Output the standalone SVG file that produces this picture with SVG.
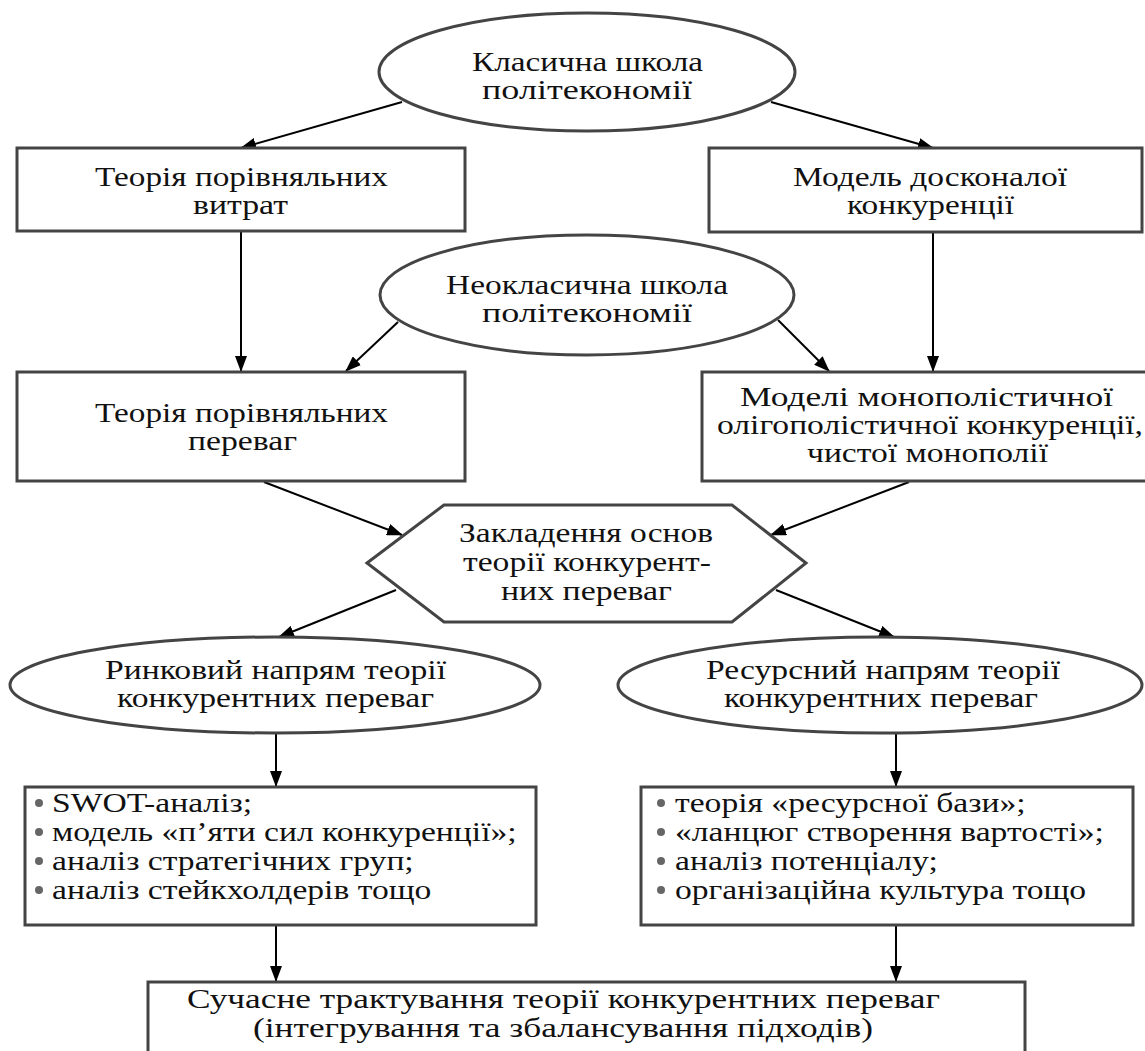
<svg xmlns="http://www.w3.org/2000/svg" width="1145" height="1051" viewBox="0 0 1145 1051">
<style>
.s{fill:#fff;stroke:#444;stroke-width:3}
text{font-family:"Liberation Serif","DejaVu Serif","Times New Roman",serif;font-size:28px;fill:#111}
.li text{font-size:27px}
.c{stroke:#000;stroke-width:2;fill:none;marker-end:url(#a)}
.b{fill:#666}
</style>
<defs>
<marker id="a" markerWidth="16" markerHeight="12" refX="15" refY="6" orient="auto" markerUnits="userSpaceOnUse">
<path d="M0,0 L16,6 L0,12 z" fill="#000"/>
</marker>
</defs>
<rect width="1145" height="1051" fill="#fff"/>
<g id="connectors">
<line class="c" x1="402" y1="102" x2="241" y2="148"/>
<line class="c" x1="771" y1="102" x2="933" y2="148"/>
<line class="c" x1="241" y1="231" x2="241" y2="371"/>
<line class="c" x1="933" y1="232" x2="933" y2="371"/>
<line class="c" x1="398" y1="322" x2="346" y2="371"/>
<line class="c" x1="778" y1="320" x2="829" y2="371"/>
<line class="c" x1="264" y1="482" x2="402" y2="535"/>
<line class="c" x1="909" y1="482" x2="771" y2="535"/>
<line class="c" x1="396" y1="590" x2="279" y2="637"/>
<line class="c" x1="776" y1="590" x2="894" y2="637"/>
<line class="c" x1="276" y1="733" x2="276" y2="786"/>
<line class="c" x1="896" y1="733" x2="896" y2="786"/>
<line class="c" x1="276" y1="926" x2="276" y2="981"/>
<line class="c" x1="896" y1="926" x2="896" y2="981"/>
</g>
<g id="n1">
<ellipse class="s" cx="587" cy="72" rx="208" ry="59"/>
<text x="472" y="71" textLength="231" lengthAdjust="spacingAndGlyphs">Класична школа</text>
<text x="482" y="99" textLength="210" lengthAdjust="spacingAndGlyphs">політекономії</text>
</g>
<g id="n2">
<rect class="s" x="17" y="148" width="448" height="83"/>
<text x="95" y="186" textLength="293" lengthAdjust="spacingAndGlyphs">Теорія порівняльних</text>
<text x="193" y="214" textLength="95" lengthAdjust="spacingAndGlyphs">витрат</text>
</g>
<g id="n3">
<rect class="s" x="709" y="148" width="433" height="84"/>
<text x="793" y="186" textLength="274" lengthAdjust="spacingAndGlyphs">Модель досконалої</text>
<text x="847" y="214" textLength="167" lengthAdjust="spacingAndGlyphs">конкуренції</text>
</g>
<g id="n4">
<ellipse class="s" cx="587" cy="295" rx="207" ry="60"/>
<text x="446" y="294" textLength="282" lengthAdjust="spacingAndGlyphs">Неокласична школа</text>
<text x="482" y="322" textLength="210" lengthAdjust="spacingAndGlyphs">політекономії</text>
</g>
<g id="n5">
<rect class="s" x="17" y="372" width="448" height="109"/>
<text x="95" y="422" textLength="293" lengthAdjust="spacingAndGlyphs">Теорія порівняльних</text>
<text x="188" y="450" textLength="109" lengthAdjust="spacingAndGlyphs">переваг</text>
</g>
<g id="n6">
<rect class="s" x="702" y="372" width="446" height="109"/>
<text x="740" y="406" textLength="373" lengthAdjust="spacingAndGlyphs">Моделі монополістичної</text>
<text x="717" y="434" textLength="426" lengthAdjust="spacingAndGlyphs">олігополістичної конкуренції,</text>
<text x="807" y="462" textLength="241" lengthAdjust="spacingAndGlyphs">чистої монополії</text>
</g>
<g id="n7">
<polygon class="s" points="367,563 444,505 732,505 806,563 732,622 444,622"/>
<text x="459" y="542" textLength="254" lengthAdjust="spacingAndGlyphs">Закладення основ</text>
<text x="463" y="571" textLength="248" lengthAdjust="spacingAndGlyphs">теорії конкурент-</text>
<text x="501" y="600" textLength="171" lengthAdjust="spacingAndGlyphs">них переваг</text>
</g>
<g id="n8">
<ellipse class="s" cx="275" cy="685" rx="265" ry="48"/>
<text x="105" y="679" textLength="341" lengthAdjust="spacingAndGlyphs">Ринковий напрям теорії</text>
<text x="117" y="707" textLength="317" lengthAdjust="spacingAndGlyphs">конкурентних переваг</text>
</g>
<g id="n9">
<ellipse class="s" cx="880" cy="685" rx="262" ry="48"/>
<text x="706" y="679" textLength="354" lengthAdjust="spacingAndGlyphs">Ресурсний напрям теорії</text>
<text x="724" y="707" textLength="314" lengthAdjust="spacingAndGlyphs">конкурентних переваг</text>
</g>
<g id="n10">
<rect class="s" x="25" y="787" width="511" height="138"/>
<circle class="b" cx="39" cy="803" r="4"/>
<circle class="b" cx="39" cy="832" r="4"/>
<circle class="b" cx="39" cy="861" r="4"/>
<circle class="b" cx="39" cy="890" r="4"/>
<g class="li" transform="translate(52,0) scale(1.245,1)">
<text x="0" y="812">SWOT-аналіз;</text>
<text x="0" y="841">модель «п’яти сил конкуренції»;</text>
<text x="0" y="870">аналіз стратегічних груп;</text>
<text x="0" y="899">аналіз стейкхолдерів тощо</text>
</g>
</g>
<g id="n11">
<rect class="s" x="641" y="787" width="492" height="138"/>
<circle class="b" cx="661" cy="803" r="4"/>
<circle class="b" cx="661" cy="832" r="4"/>
<circle class="b" cx="661" cy="861" r="4"/>
<circle class="b" cx="661" cy="890" r="4"/>
<g class="li" transform="translate(675,0) scale(1.245,1)">
<text x="0" y="812">теорія «ресурсної бази»;</text>
<text x="0" y="841">«ланцюг створення вартості»;</text>
<text x="0" y="870">аналіз потенціалу;</text>
<text x="0" y="899">організаційна культура тощо</text>
</g>
</g>
<g id="n12">
<rect class="s" x="148" y="982" width="877" height="90"/>
<text x="187" y="1008" textLength="753" lengthAdjust="spacingAndGlyphs">Сучасне трактування теорії конкурентних переваг</text>
<text x="253" y="1037" textLength="620" lengthAdjust="spacingAndGlyphs">(інтегрування та збалансування підходів)</text>
</g>
</svg>
